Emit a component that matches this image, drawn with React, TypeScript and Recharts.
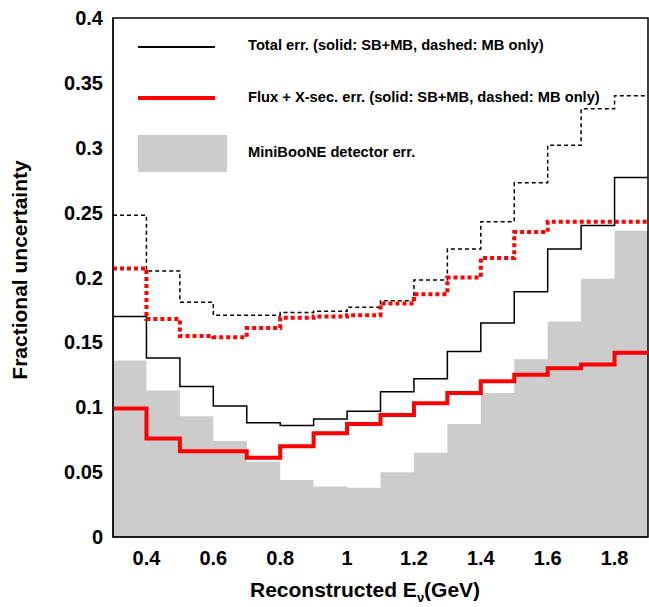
import React from "react";
import { ComposedChart, Area, Line, XAxis, YAxis, ReferenceArea } from "recharts";

const binEdges = [0.3,0.4,0.5,0.6,0.7,0.8,0.9,1.0,1.1,1.2,1.3,1.4,1.5,1.6,1.7,1.8,1.9];
const detector = [0.136,0.113,0.093,0.074,0.058,0.044,0.039,0.038,0.050,0.065,0.087,0.111,0.137,0.166,0.199,0.236];
const totalSolid = [0.170,0.138,0.116,0.101,0.088,0.086,0.091,0.097,0.112,0.122,0.143,0.165,0.189,0.222,0.240,0.277];
const totalDashed = [0.248,0.205,0.181,0.171,0.171,0.173,0.174,0.177,0.182,0.198,0.222,0.243,0.273,0.302,0.330,0.340];
const fluxSolid = [0.099,0.076,0.066,0.066,0.061,0.070,0.080,0.087,0.094,0.103,0.111,0.120,0.125,0.130,0.133,0.142];
const fluxDashed = [0.207,0.168,0.155,0.154,0.161,0.169,0.170,0.171,0.180,0.187,0.200,0.215,0.235,0.243,0.243,0.243];
const xTicks = [0.4,0.6,0.8,1.0,1.2,1.4,1.6,1.8];
const yTicks = [0,0.05,0.1,0.15,0.2,0.25,0.3,0.35,0.4];

const v = (a: number[], i: number) => a[Math.min(i, a.length - 1)];
const data = binEdges.map((x, i) => ({
  x,
  det: v(detector, i),
  ts: v(totalSolid, i),
  td: v(totalDashed, i),
  fs: v(fluxSolid, i),
  fd: v(fluxDashed, i),
}));

const font = "'Liberation Sans', Arial, sans-serif";
const tickStyle = { fontSize: 20, fontWeight: 700, fill: "#000", fontFamily: font };
const legText = { position: "absolute" as const, left: 248, fontSize: 14.7, fontWeight: 700, whiteSpace: "nowrap" as const };

export default function App() {
  return (
    <div style={{ position: "relative", width: 649, height: 607, fontFamily: font, background: "#fff", overflow: "hidden" }}>
      <style>{"html,body{margin:0;padding:0;overflow:hidden;}"}</style>
      <ComposedChart width={649} height={607} data={data} margin={{ top: 18, right: 1, bottom: 0, left: 53 }}>
        <XAxis dataKey="x" type="number" domain={[0.3, 1.9]} ticks={xTicks} height={70}
          tickFormatter={(t: number) => String(Math.round(t * 10) / 10)}
          tick={tickStyle} tickLine={false} axisLine={{ stroke: "#000" }} tickMargin={8}
          allowDataOverflow />
        <YAxis type="number" domain={[0, 0.4]} ticks={yTicks} width={60}
          tickFormatter={(t: number) => String(Math.round(t * 100) / 100)}
          tick={tickStyle} tickLine={false} axisLine={{ stroke: "#000" }} tickMargin={4} />
        <Area dataKey="det" type="stepAfter" fill="#cccccc" fillOpacity={1} stroke="none" isAnimationActive={false} />
        <Line dataKey="td" type="stepAfter" stroke="#000" strokeWidth={1.5} strokeDasharray="4 3" dot={false} isAnimationActive={false} />
        <Line dataKey="ts" type="stepAfter" stroke="#000" strokeWidth={1.5} dot={false} isAnimationActive={false} />
        <Line dataKey="fd" type="stepAfter" stroke="#ff0000" strokeWidth={4} strokeDasharray="4 3" dot={false} isAnimationActive={false} />
        <Line dataKey="fs" type="stepAfter" stroke="#ff0000" strokeWidth={4} dot={false} isAnimationActive={false} />
        <ReferenceArea x1={0.3} x2={1.9} y1={0} y2={0.4} fill="none" stroke="#000" strokeWidth={1.5} ifOverflow="visible" />
      </ComposedChart>
      <div style={{ position: "absolute", left: 0, top: 0, width: 649, height: 607, pointerEvents: "none" }}>
        <div style={{ position: "absolute", left: 138, top: 46, width: 77, height: 2, background: "#000" }} />
        <div style={{ ...legText, top: 37 }}>Total err. (solid: SB+MB, dashed: MB only)</div>
        <div style={{ position: "absolute", left: 138, top: 96, width: 77, height: 4, background: "#ff0000" }} />
        <div style={{ ...legText, top: 89 }}>Flux + X-sec. err. (solid: SB+MB, dashed: MB only)</div>
        <div style={{ position: "absolute", left: 138, top: 135, width: 89, height: 37, background: "#cccccc" }} />
        <div style={{ ...legText, top: 144 }}>MiniBooNE detector err.</div>
        <div style={{ position: "absolute", left: 250, top: 578, fontSize: 21, fontWeight: 700, whiteSpace: "nowrap" }}>Reconstructed E<sub style={{ fontSize: 13 }}>ν</sub>(GeV)</div>
        <div style={{ position: "absolute", left: 20, top: 270, fontSize: 21, fontWeight: 700, transform: "translate(-50%,-50%) rotate(-90deg)", whiteSpace: "nowrap" }}>Fractional uncertainty</div>
      </div>
    </div>
  );
}
